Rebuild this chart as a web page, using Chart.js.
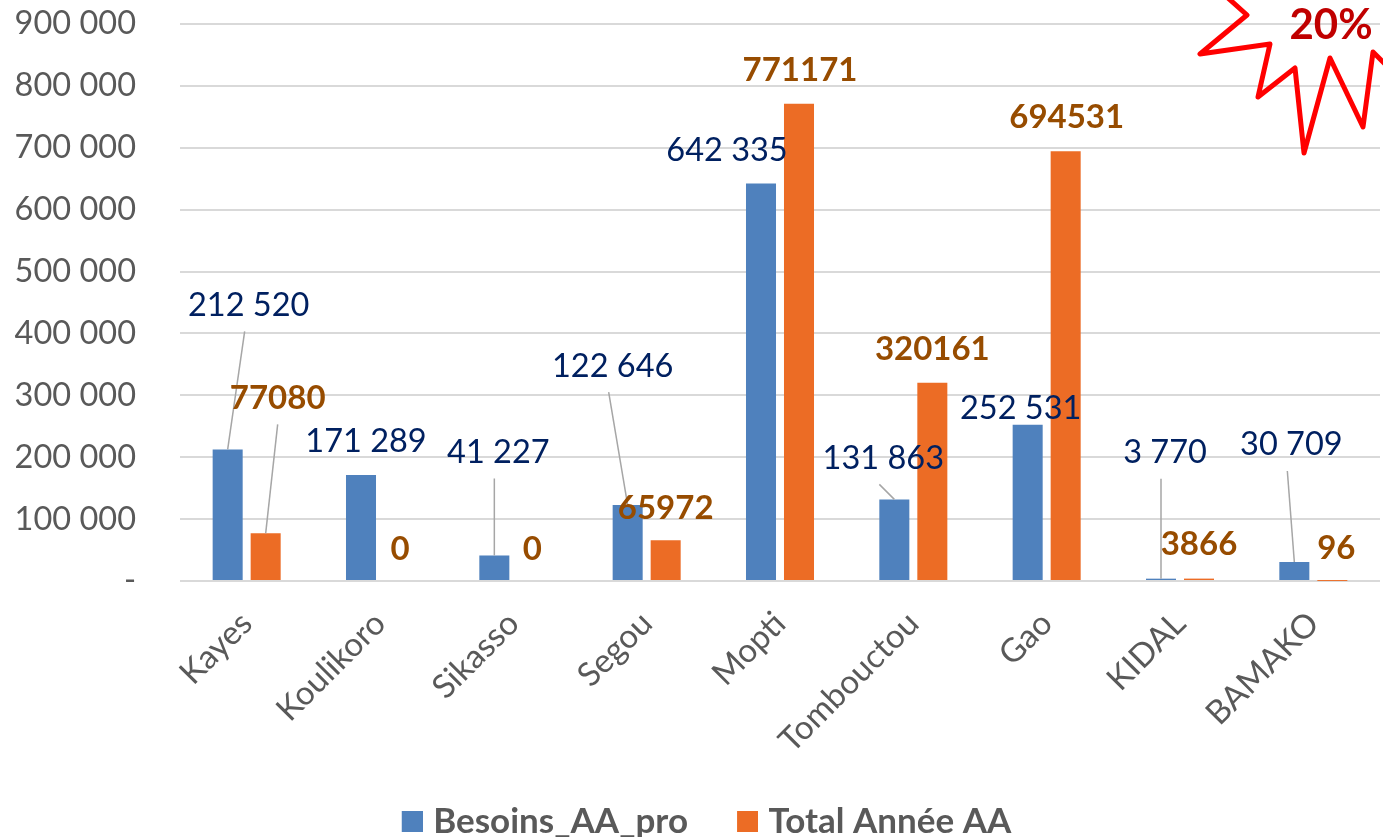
<!DOCTYPE html>
<html lang="fr">
<head>
<meta charset="utf-8">
<title>Besoins_AA_pro et Total Année AA par région</title>
<script src="https://cdn.jsdelivr.net/npm/chart.js@4"></script>
<style>
html,body{margin:0;padding:0;background:#fff;overflow:hidden}
canvas{display:block}
</style>
</head>
<body>
<canvas id="c" width="1383" height="837"></canvas>
<script>
const categories = ["Kayes","Koulikoro","Sikasso","Segou","Mopti","Tombouctou","Gao","KIDAL","BAMAKO"];
const besoinsValues = [212520,171289,41227,122646,642335,131863,252531,3770,30709];
const totalValues = [77080,0,0,65972,771171,320161,694531,3866,96];
const seriesNames = ["Besoins_AA_pro","Total Année AA"];
const seriesColors = ["#4f81bd","#ec6c25"];
const calloutText = "20%";

// Label placement, relative to the top of each bar: [dx, dy, hasLeaderLine]
const besoinsLabelOffsets = [[21,-144,1],[5,-33,0],[4,-103,1],[-15,-139,1],[-34,-33,0],[-11,-41,1],[-7,-16,0],[4,-126,1],[-3,-117,1]];
const totalLabelOffsets = [[12,-135,1],[1,-32,0],[0,-32,0],[0,-32,0],[1,-33,0],[0,-33,0],[1,-34,0],[0,-34,0],[4,-33,0]];
const burstOutline = [[1228,-2],[1247,15],[1200,54],[1270,44],[1258,97],[1295,68],[1304,153],[1330,58],[1363,127],[1373,52],[1385,64]];

const FONT = "Lato, Carlito, 'Open Sans', sans-serif";
const spaced = v => String(v).replace(/\B(?=(\d{3})+(?!\d))/g, " ");

// Legend swatch drawn closer to its text than the library's fixed gap allows
function swatch(color) {
  const c = document.createElement("canvas");
  c.width = 35; c.height = 21;
  const g = c.getContext("2d");
  g.fillStyle = color;
  g.fillRect(14, 0, 21, 21);
  return c;
}

const annotations = {
  id: "annotations",
  afterLayout(chart) {
    // Reference legend sits off-centre, low on the page; labels overflow the x band
    const lg = chart.legend;
    const h = lg.bottom - lg.top;
    lg.left += 13; lg.right += 13;
    lg.top = 762; lg.bottom = lg.top + h;
    chart.scales.x.bottom = 837;
  },
  afterDatasetsDraw(chart) {
    const ctx = chart.ctx;
    const sets = [
      {meta: chart.getDatasetMeta(0), vals: besoinsValues, offs: besoinsLabelOffsets, fmt: spaced, font: "400 32.5px " + FONT, color: "#002060", lx: -4},
      {meta: chart.getDatasetMeta(1), vals: totalValues, offs: totalLabelOffsets, fmt: String, font: "700 33px " + FONT, color: "#974c00", lx: 0}
    ];
    ctx.save();
    sets.forEach(s => s.vals.forEach((v, i) => {
      const el = s.meta.data[i], o = s.offs[i];
      const px = el.x + o[0], py = el.y + o[1];
      if (o[2]) {
        ctx.strokeStyle = "#a6a6a6"; ctx.lineWidth = 1.5;
        ctx.beginPath(); ctx.moveTo(px + s.lx, py + 26); ctx.lineTo(el.x, el.y); ctx.stroke();
      }
    }));
    sets.forEach(s => s.vals.forEach((v, i) => {
      const el = s.meta.data[i], o = s.offs[i];
      ctx.font = s.font; ctx.fillStyle = s.color;
      ctx.textAlign = "center"; ctx.textBaseline = "middle";
      ctx.fillText(s.fmt(v), el.x + o[0], el.y + o[1]);
    }));
    ctx.strokeStyle = "#ff0000"; ctx.lineWidth = 5; ctx.lineJoin = "round";
    ctx.beginPath();
    burstOutline.forEach((p, i) => i ? ctx.lineTo(p[0], p[1]) : ctx.moveTo(p[0], p[1]));
    ctx.stroke();
    ctx.font = "700 42px " + FONT; ctx.fillStyle = "#c00000";
    ctx.textAlign = "center"; ctx.textBaseline = "middle";
    ctx.fillText(calloutText, 1331, 25);
    ctx.restore();
  }
};

new Chart(document.getElementById("c"), {
  type: "bar",
  data: {
    labels: categories,
    datasets: [
      {label: seriesNames[0], data: besoinsValues, backgroundColor: seriesColors[0]},
      {label: seriesNames[1], data: totalValues, backgroundColor: seriesColors[1]}
    ]
  },
  plugins: [annotations],
  options: {
    responsive: false,
    animation: false,
    layout: {padding: {top: 24, left: 0, right: 3, bottom: 0}},
    datasets: {bar: {categoryPercentage: 0.57, barPercentage: 0.79}},
    plugins: {
      tooltip: {enabled: false},
      legend: {
        position: "bottom",
        labels: {
          usePointStyle: true, boxWidth: 21, boxHeight: 21, padding: 42, color: "#595959",
          font: {family: FONT, size: 35, weight: "700"},
          generateLabels(chart) {
            const items = Chart.defaults.plugins.legend.labels.generateLabels(chart);
            items.forEach((it, i) => { it.pointStyle = swatch(seriesColors[i]); });
            return items;
          }
        }
      }
    },
    scales: {
      x: {
        grid: {display: false, drawTicks: false},
        border: {display: false},
        afterFit(s) { s.height = 169; s.paddingLeft = 0; s.paddingRight = 0; },
        ticks: {minRotation: 45, maxRotation: 45, padding: 23, color: "#595959", autoSkip: false,
                font: {family: FONT, size: 33}}
      },
      y: {
        min: 0, max: 900000,
        afterFit(s) { s.width = 180; s.paddingTop = 0; s.paddingBottom = 0; },
        grid: {color: "#d9d9d9", lineWidth: 2, drawTicks: false},
        border: {display: false},
        ticks: {stepSize: 100000, padding: 44, color: "#595959",
                font: {family: FONT, size: 32.5},
                callback: v => v === 0 ? "-" : spaced(v)}
      }
    }
  }
});
</script>
</body>
</html>
